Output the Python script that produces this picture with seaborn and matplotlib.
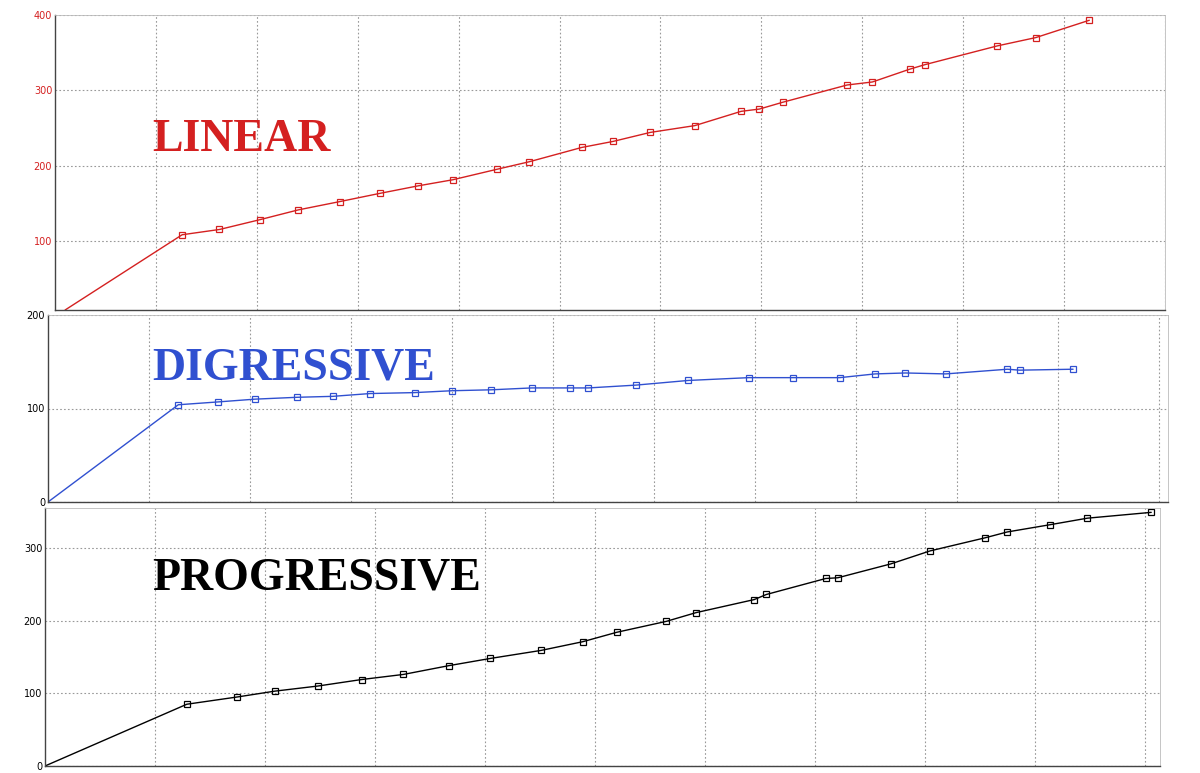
import matplotlib
matplotlib.use("Agg")
import matplotlib.pyplot as plt
import seaborn as sns
import pandas as pd

lin_x = [0.1,1.26,1.63,2.03,2.41,2.82,3.22,3.6,3.94,4.38,4.7,5.22,5.53,5.9,6.34,6.8,6.98,7.21,7.85,8.1,8.47,8.62,9.34,9.72,10.25]
lin_y = [8,108,115,128,141,152,163,173,181,195,205,224,232,244,253,272,275,284,307,311,328,334,359,370,393]
dig_x = [0,1.29,1.68,2.05,2.47,2.82,3.19,3.63,4.0,4.39,4.79,5.17,5.35,5.82,6.34,6.94,7.38,7.84,8.19,8.49,8.89,9.5,9.62,10.15]
dig_y = [0,104,107,110,112,113,116,117,119,120,122,122,122,125,130,133,133,133,137,138,137,142,141,142]
pro_x = [0,1.29,1.75,2.09,2.48,2.88,3.26,3.67,4.05,4.51,4.89,5.2,5.65,5.92,6.45,6.56,7.1,7.21,7.69,8.05,8.55,8.75,9.14,9.48,10.06]
pro_y = [0,85,95,103,110,119,126,138,148,159,171,184,199,211,229,236,258,259,278,296,314,322,332,341,349]

sns.set_style("white")
fig = plt.figure(figsize=(12, 7.73), dpi=100)
W, H = 1200, 773

def mkax(l, r, t, b):
    return fig.add_axes([l / W, 1 - b / H, (r - l) / W, (b - t) / H])

panels = [
    (mkax(55, 1165, 15, 310), lin_x, lin_y, "#d42020", "LINEAR", (0, 11.0), (8, 400), [100, 200, 300, 400], "#d42020", 140),
    (mkax(48, 1168, 315, 502), dig_x, dig_y, "#3050d0", "DIGRESSIVE", (0, 11.09), (0, 200), [0, 100, 200], "black", 368),
    (mkax(45, 1160, 508, 766), pro_x, pro_y, "black", "PROGRESSIVE", (0, 10.14), (0, 355), [0, 100, 200, 300], "black", 578),
]
for ax, xs, ys, col, label, xl, yl, yt, tcol, py in panels:
    df = pd.DataFrame({"x": xs, "y": ys})
    sns.lineplot(data=df, x="x", y="y", ax=ax, color=col, lw=1, marker="s",
                 markersize=5, markerfacecolor="none", markeredgecolor=col, markeredgewidth=0.9)
    ax.lines[0].set_markevery(list(range(1, len(xs))))
    ax.set_xlim(*xl); ax.set_ylim(*yl)
    ax.set_xticks(range(1, int(xl[1]) + 1))
    ax.set_yticks(yt)
    ax.set_xticklabels([]); ax.set_xlabel(""); ax.set_ylabel("")
    ax.tick_params(axis="y", labelsize=7, labelcolor=tcol, length=0, pad=2)
    ax.tick_params(axis="x", length=4, color="#555555", direction="out")
    ax.grid(True, color="#999999", ls=(0, (1.5, 2)), lw=0.8)
    for s in ["top", "right"]:
        ax.spines[s].set_color("#bbbbbb"); ax.spines[s].set_linewidth(0.6)
    for s in ["left", "bottom"]:
        ax.spines[s].set_color("#444444"); ax.spines[s].set_linewidth(1)
    fig.text(152 / W, 1 - py / H, label, fontsize=33, fontweight="bold",
             family="Liberation Serif", color=col, va="center")

fig.savefig("out.png", dpi=100)
